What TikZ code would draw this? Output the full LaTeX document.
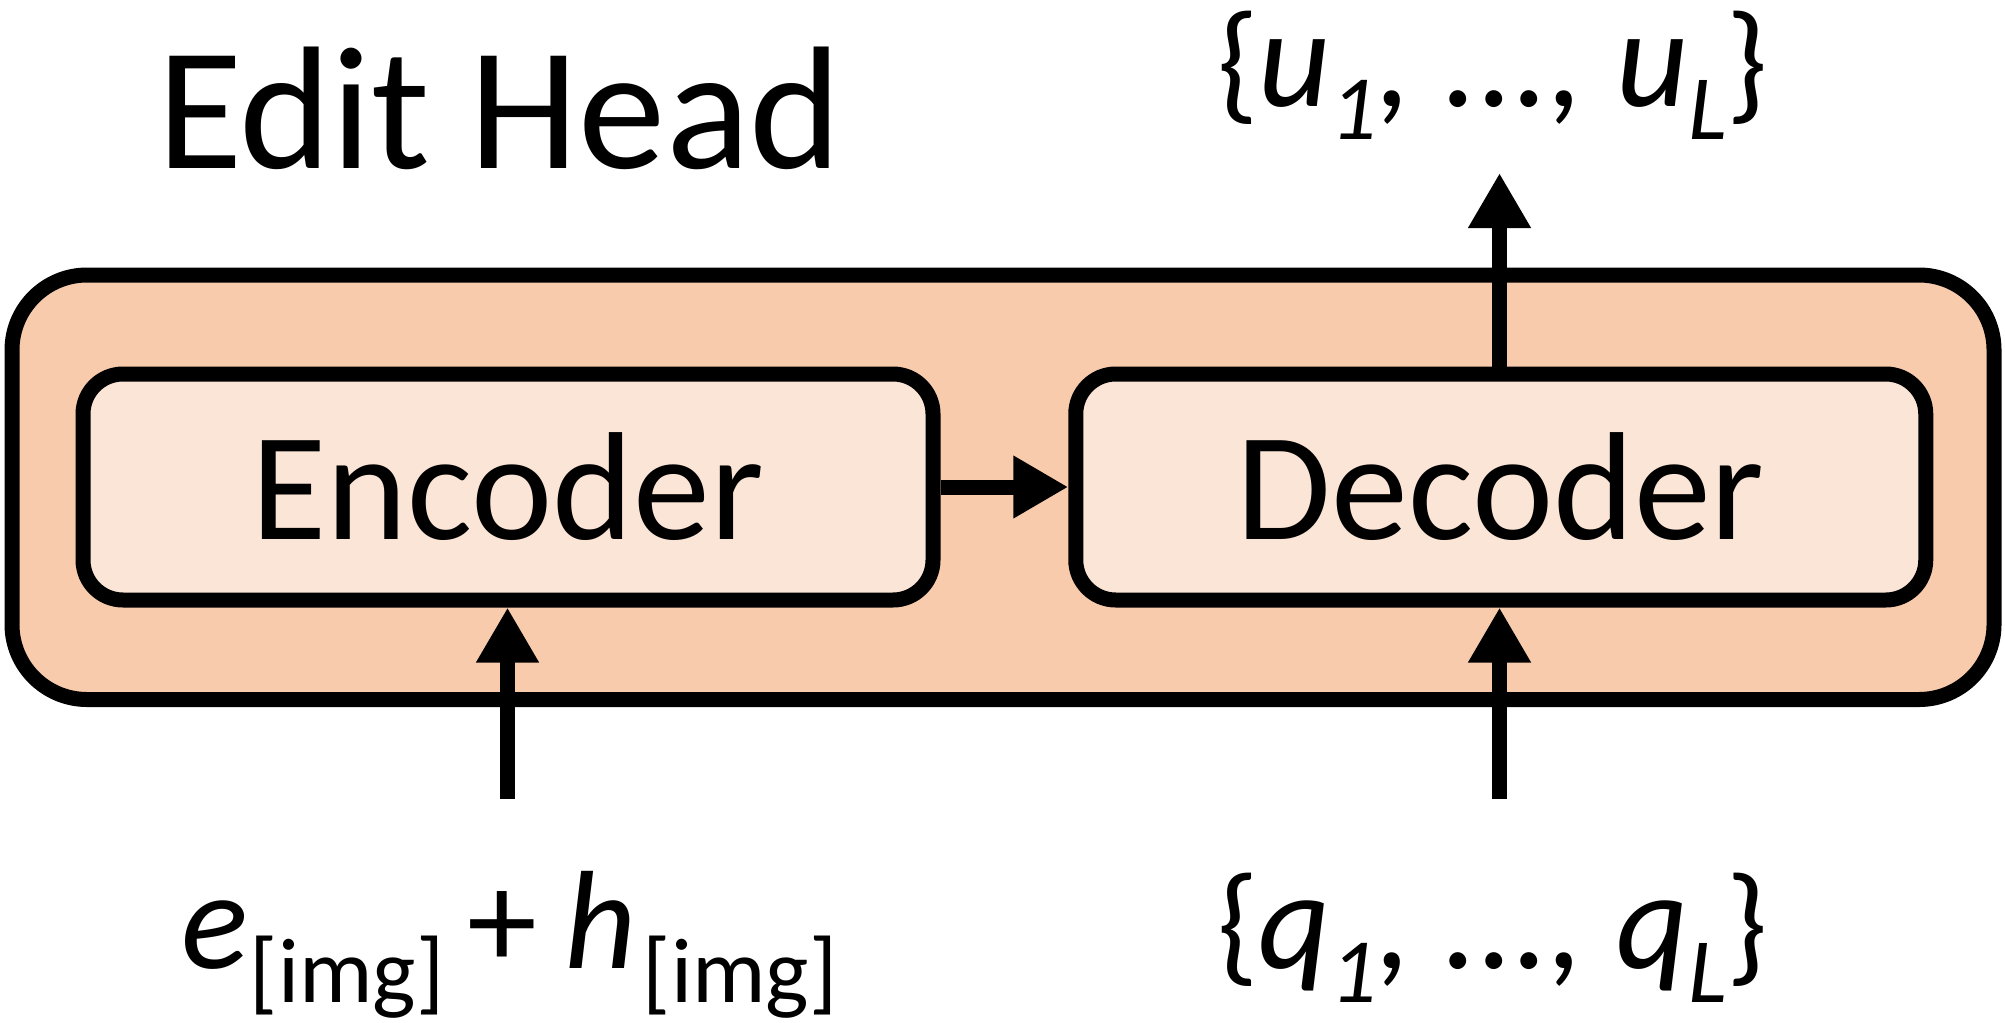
\documentclass[tikz,border=0pt]{standalone}
\usepackage{fontspec}
\setmainfont{Carlito}
\usetikzlibrary{arrows.meta}
\definecolor{outerfill}{HTML}{F8CBAD}
\definecolor{innerfill}{HTML}{FBE5D6}
\newcommand\mainsz{\fontsize{70pt}{84pt}\selectfont}
\newcommand\subsz{\fontsize{46pt}{55pt}\selectfont}
\newcommand\sbs[1]{\raisebox{-17pt}{\subsz #1}}
\newcommand\lbr{{\fontsize{66pt}{80pt}\selectfont\{}}
\newcommand\rbr{{\fontsize{66pt}{80pt}\selectfont\}}}
\begin{document}
\begin{tikzpicture}[x=0.5pt,y=-0.5pt,
  headbox/.style={draw=black,line width=7.5pt,fill=outerfill,rounded corners=37.5pt,
    minimum width=991pt,minimum height=212.25pt,inner sep=0pt},
  blockbox/.style={draw=black,line width=7.5pt,fill=innerfill,rounded corners=20pt,
    minimum width=425pt,minimum height=113pt,inner sep=0pt,font=\fontsize{77pt}{90pt}\selectfont},
  conn/.style={line width=7.5pt,-{Triangle[length=27.5pt,width=29.5pt]}},
  lbl/.style={inner sep=0pt,outer sep=0pt}]
\useasboundingbox (0,0) rectangle (2005,1022);
\node[headbox] (head) at (1003,487.25) {};
\node[blockbox] (enc) at (508,487) {Encoder};
\node[blockbox] (dec) at (1500.75,487) {Decoder};
\node[lbl,anchor=base west,font=\fontsize{87.5pt}{100pt}\selectfont] (title) at (157,168) {Edit Head};
\coordinate (encin) at (507.5,799);
\coordinate (decin) at (1499.5,799);
\coordinate (decout) at (1499.5,173);
\draw[conn] (enc.east) -- (dec.west);
\draw[conn] (encin) -- (encin |- enc.south);
\draw[conn] (decin) -- (decin |- dec.south);
\draw[conn] (decout |- dec.north) -- (decout);
\node[lbl,anchor=base west] (uset) at (1217,106) {\mainsz\lbr\textit{u}\sbs{\textit{1}}\textit{, ..., u}\sbs{\textit{L}}\rbr};
\node[lbl,anchor=base west] (qset) at (1217,968) {\mainsz\lbr\textit{q}\sbs{\textit{1}}\textit{, ..., q}\sbs{\textit{L}}\rbr};
\node[lbl,anchor=base west] (emb) at (181,968) {\mainsz\textit{e}\hspace{1pt}\sbs{[img]}\hspace{11.5pt}+\hspace{14pt}\textit{h}\hspace{3pt}\sbs{[img]}};
\end{tikzpicture}
\end{document}
